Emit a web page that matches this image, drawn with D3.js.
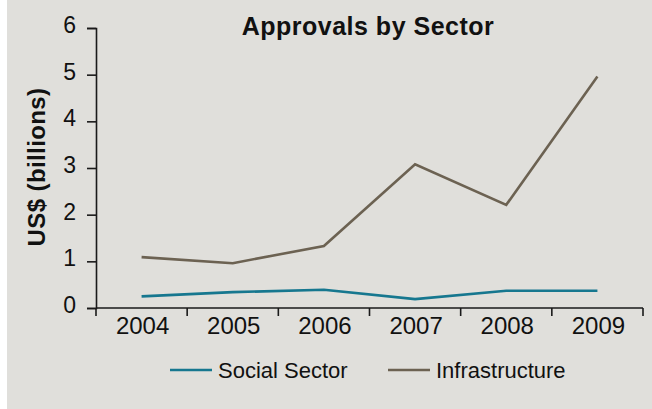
<!DOCTYPE html>
<html>
<head>
<meta charset="utf-8">
<script src="https://cdn.jsdelivr.net/npm/d3@7"></script>
<style>
    body { margin: 0; background: #ffffff; }
    .chart text { font-family: "Liberation Sans", Arial, sans-serif; fill: #111; }
    .axis path, .axis line { stroke: #1a1a1a; stroke-width: 1.6; }
    .line { fill: none; stroke-width: 2.6; }
</style>
</head>
<body>
<div class="chart"></div>
<script>
// values
const years = ["2004", "2005", "2006", "2007", "2008", "2009"];
const socialSector = [0.25, 0.34, 0.39, 0.19, 0.37, 0.37];
const infrastructure = [1.09, 0.96, 1.33, 3.08, 2.21, 4.96];
const yTicks = [0, 1, 2, 3, 4, 5, 6];

const seriesNames = ["Social Sector", "Infrastructure"];
const seriesColors = ["#16778f", "#6c6252"];

const width = 652, height = 409;
const margin = { top: 28, right: 9, bottom: 101, left: 96 };
const chartWidth = width - margin.left - margin.right;
const chartHeight = height - margin.top - margin.bottom;

const svg = d3.select(".chart").append("svg")
    .attr("width", width)
    .attr("height", height);

// grey panel, thin white strip on the left
svg.append("rect")
    .attr("x", 7).attr("y", 0)
    .attr("width", width - 7).attr("height", height)
    .attr("fill", "#e0dfdb");

const g = svg.append("g")
    .attr("transform", `translate(${margin.left}, ${margin.top})`);

const xScale = d3.scaleBand().domain(years).range([0, chartWidth]);
const yScale = d3.scaleLinear().domain([0, 6]).range([chartHeight, 0]);

// y axis
const yAxis = g.append("g")
    .attr("class", "y axis")
    .call(d3.axisLeft(yScale).tickValues(yTicks).tickSize(9).tickFormat(d3.format("d")));
yAxis.selectAll("text")
    .attr("x", -20)
    .attr("dy", "0.2em")
    .style("font-size", "23px");

// x axis: ticks sit on the band edges, labels in the band middles
const xAxis = g.append("g")
    .attr("class", "x axis")
    .attr("transform", `translate(0, ${chartHeight})`);
xAxis.append("line")
    .attr("x1", 0).attr("x2", chartWidth);
xAxis.selectAll(".edge")
    .data(years.concat(["end"]))
    .enter().append("line")
    .attr("class", "edge")
    .attr("x1", (d, i) => i * xScale.step())
    .attr("x2", (d, i) => i * xScale.step())
    .attr("y1", 0).attr("y2", 8);
xAxis.selectAll(".year")
    .data(years)
    .enter().append("text")
    .attr("class", "year")
    .attr("x", d => xScale(d) + xScale.bandwidth() / 2 + 1)
    .attr("y", 26)
    .attr("text-anchor", "middle")
    .style("font-size", "24px")
    .text(d => d);

// lines
const line = d3.line()
    .x((d, i) => xScale(years[i]) + xScale.bandwidth() / 2)
    .y(d => yScale(d))
    .curve(d3.curveLinear);

[socialSector, infrastructure].forEach((values, i) => {
    g.append("path")
        .datum(values)
        .attr("class", "line")
        .attr("stroke", seriesColors[i])
        .attr("d", line);
});

// title
svg.append("text")
    .attr("x", 368)
    .attr("y", 35)
    .attr("text-anchor", "middle")
    .style("font-size", "25px")
    .style("font-weight", "bold")
    .style("letter-spacing", "0.5px")
    .text("Approvals by Sector");

// y label
svg.append("text")
    .attr("transform", "translate(45, 167) rotate(-90)")
    .attr("text-anchor", "middle")
    .style("font-size", "24px")
    .style("font-weight", "bold")
    .style("letter-spacing", "0.4px")
    .text("US$ (billions)");

// legend
const legendX = [170, 388];
const legend = svg.append("g").attr("class", "legend");
seriesNames.forEach((name, i) => {
    legend.append("line")
        .attr("x1", legendX[i]).attr("x2", legendX[i] + 42)
        .attr("y1", 370).attr("y2", 370)
        .attr("stroke", seriesColors[i])
        .attr("stroke-width", 2.6);
    legend.append("text")
        .attr("x", legendX[i] + 48)
        .attr("y", 378)
        .style("font-size", "22px")
        .text(name);
});
</script>
</body>
</html>
